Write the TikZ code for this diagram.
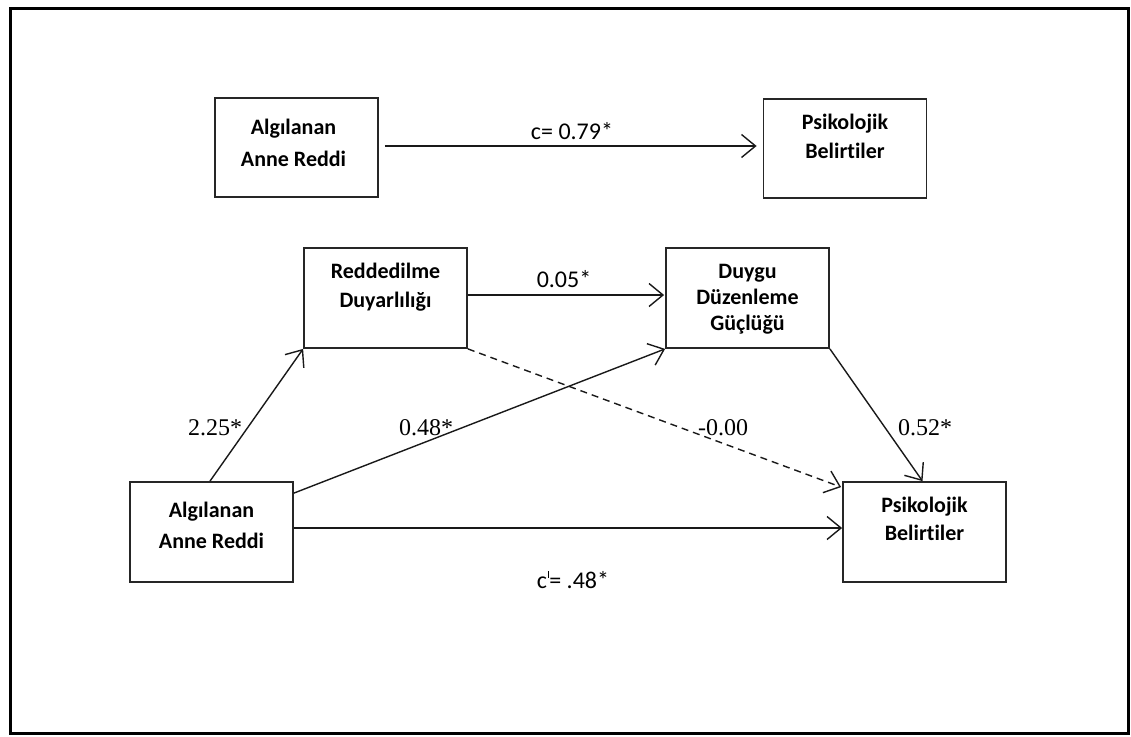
\documentclass[tikz,border=0pt]{standalone}
\usepackage{fontspec}
\setmainfont{Liberation Serif}
\newfontfamily\calfont[Ligatures=NoCommon]{Carlito}
\usetikzlibrary{arrows.meta}
\begin{document}
\begin{tikzpicture}[x=1pt,y=-1pt,
  boxn/.style={draw=black!85, line width=1.8pt, minimum width=163pt, minimum height=99pt, inner sep=0pt},
  btxt/.style={anchor=base, inner sep=0pt, font=\calfont\bfseries\fontsize{22}{26}\selectfont},
  ctxt/.style={anchor=base, inner sep=0pt, font=\calfont\fontsize{24}{28}\selectfont},
  ttxt/.style={anchor=base, inner sep=0pt, font=\fontsize{24}{28}\selectfont},
  arr/.style={line width=1.4pt, draw=black!90, -{Straight Barb[length=14pt,width=23pt,line width=1.4pt]}},
  dasharr/.style={arr, dash pattern=on 7pt off 5pt}
]
\useasboundingbox (0,0) rectangle (1131,736);
\fill[white] (0,0) rectangle (1131,736);
\draw[line width=3pt] (10,8) rectangle (1128,733);

% boxes
\node[boxn] (a1) at (296.5,147.5) {};
\node[boxn] (p1) at (845,148.5) {};
\node[boxn, minimum height=100pt] (r) at (385.5,298) {};
\node[boxn, minimum height=100pt] (d) at (747.5,298) {};
\node[boxn, minimum height=100pt] (a2) at (211.5,532) {};
\node[boxn, minimum height=100pt] (p2) at (924.5,532) {};

% box texts
\node[btxt] (a1t1) at ([shift={(-3,37)}]a1.north) {Algılanan};
\node[btxt] (a1t2) at ([shift={(-3,69)}]a1.north) {Anne Reddi};
\node[btxt] (p1t1) at ([shift={(0,31)}]p1.north) {Psikolojik};
\node[btxt] (p1t2) at ([shift={(0,60)}]p1.north) {Belirtiler};
\node[btxt] (rt1) at ([shift={(0,31)}]r.north) {Reddedilme};
\node[btxt] (rt2) at ([shift={(0,60)}]r.north) {Duyarlılığı};
\node[btxt] (dt1) at ([shift={(0,31)}]d.north) {Duygu};
\node[btxt] (dt2) at ([shift={(0,57)}]d.north) {Düzenleme};
\node[btxt] (dt3) at ([shift={(0,83)}]d.north) {Güçlüğü};
\node[btxt] (a2t1) at ([shift={(0,36)}]a2.north) {Algılanan};
\node[btxt] (a2t2) at ([shift={(0,67)}]a2.north) {Anne Reddi};
\node[btxt] (p2t1) at ([shift={(0,31)}]p2.north) {Psikolojik};
\node[btxt] (p2t2) at ([shift={(0,59)}]p2.north) {Belirtiler};

% connectors
\draw[arr] ([shift={(6,-1.5)}]a1.east) -- ([shift={(-6,-2.5)}]p1.west);
\draw[arr] ([shift={(0,-3)}]r.east) -- ([shift={(-1,-3)}]d.west);
\draw[arr] ([shift={(-1.5,0)}]a2.north) -- (r.south west);
\draw[arr] ([shift={(0,12)}]a2.north east) -- (d.south west);
\draw[arr] ([shift={(0,-4)}]a2.east) -- ([shift={(0,-4)}]p2.west);
\draw[dasharr] (r.south east) -- ([shift={(-1,6)}]p2.north west);
\draw[arr] (d.south east) -- ([shift={(-2,0)}]p2.north);

% path labels
\node[ctxt] (lc) at (572,139) {c= 0.79*};
\node[ctxt] (l05) at (564,287) {0.05*};
\node[ttxt] (l225) at (215,435) {2.25*};
\node[ttxt] (l048) at (426,435) {0.48*};
\node[ttxt] (l000) at (723,435) {-0.00};
\node[ttxt] (l052) at (925,435) {0.52*};
\node[ctxt] (lcp) at (573,588) {c\kern0.6pt\raisebox{0.42em}{\rule{0.9pt}{0.28em}}\kern0.8pt= .48*};
\end{tikzpicture}
\end{document}
